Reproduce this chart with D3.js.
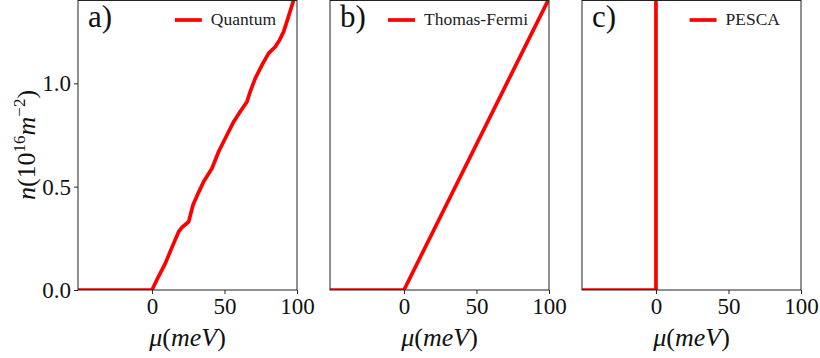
<!DOCTYPE html>
<html>
<head>
<meta charset="utf-8">
<script src="https://cdn.jsdelivr.net/npm/d3@7"></script>
<style>
  html, body { margin: 0; padding: 0; background: #fff; }
  svg { display: block; }
</style>
</head>
<body>
<svg id="chart" width="820" height="358"></svg>
<script>
// Electron density n(mu) for three models
const quantumMu = [-51, 0, 4.5, 9.2, 14, 18.4, 21, 25.3, 28.3, 32, 35.6, 41.4, 46, 51.7, 56, 60.9, 65.5, 68, 71.2, 76, 80.4, 85, 88, 90.8, 94, 97.7, 100];
const quantumN  = [0, 0, 0.065, 0.129, 0.21, 0.282, 0.305, 0.33, 0.411, 0.47, 0.524, 0.589, 0.67, 0.75, 0.81, 0.863, 0.911, 0.965, 1.024, 1.09, 1.145, 1.177, 1.21, 1.25, 1.32, 1.403, 1.46];

const thomasFermiMu = [-51, 0, 100];
const thomasFermiN  = [0, 0, 1.41];

const pescaMu = [-51, 0, 0];
const pescaN  = [0, 0, 2.0];

const xTicks = [0, 50, 100];
const yTicks = [0.0, 0.5, 1.0];
const yTickLabels = ["0.0", "0.5", "1.0"];

const panels = [
  { tag: "a)", name: "Quantum",      mu: quantumMu,     n: quantumN,     left: 78,  showY: true },
  { tag: "b)", name: "Thomas-Fermi", mu: thomasFermiMu, n: thomasFermiN, left: 330, showY: false },
  { tag: "c)", name: "PESCA",        mu: pescaMu,       n: pescaN,       left: 582, showY: false }
];

const SERIF = "'Liberation Serif', 'Times New Roman', serif";
const svg = d3.select("#chart");
const W = 219, plotTop = 0, plotBottom = 290;
const red = "#ff0000";

panels.forEach((p, i) => {
  const x = d3.scaleLinear().domain([-51, 100]).range([p.left, p.left + W]);
  const y = d3.scaleLinear().domain([0, 1.403]).range([plotBottom, plotTop]);

  const g = svg.append("g").style("font-family", SERIF);
  const clipId = "clip" + i;
  svg.append("clipPath").attr("id", clipId)
    .append("rect").attr("x", p.left).attr("y", plotTop).attr("width", W).attr("height", plotBottom - plotTop);

  // density curve
  const pts = p.mu.map((m, k) => [m, p.n[k]]);
  g.append("path")
    .datum(pts)
    .attr("clip-path", `url(#${clipId})`)
    .attr("fill", "none")
    .attr("stroke", red)
    .attr("stroke-width", 3.7)
    .attr("stroke-linejoin", "round")
    .attr("d", d3.line().x(d => x(d[0])).y(d => y(d[1])));

  // axes frame
  g.append("rect")
    .attr("x", p.left).attr("y", plotTop + 0.5)
    .attr("width", W).attr("height", plotBottom - plotTop - 0.5)
    .attr("fill", "none").attr("stroke", "#222").attr("stroke-width", 1);

  // x axis
  const xa = g.append("g").attr("transform", `translate(0,${plotBottom})`)
    .call(d3.axisBottom(x).tickValues(xTicks).tickSize(4).tickPadding(4).tickFormat(d3.format("d")));
  xa.attr("font-family", null);
  xa.select(".domain").remove();
  xa.selectAll("line").attr("stroke", "#222");
  xa.selectAll("text").style("font-family", SERIF).attr("font-size", 23).attr("fill", "#111").attr("dy", "0.7em");

  g.append("text")
    .style("font-family", SERIF)
    .attr("x", p.left + W / 2).attr("y", 346)
    .attr("text-anchor", "middle").attr("font-size", 26).attr("fill", "#111")
    .call(t => {
      t.append("tspan").attr("font-style", "italic").text("μ");
      t.append("tspan").text("(");
      t.append("tspan").attr("font-style", "italic").text("meV");
      t.append("tspan").text(")");
    });

  if (p.showY) {
    const ya = g.append("g").attr("transform", `translate(${p.left},0)`)
      .call(d3.axisLeft(y).tickValues(yTicks).tickSize(4).tickPadding(3).tickFormat((d, k) => yTickLabels[k]));
    ya.attr("font-family", null);
    ya.select(".domain").remove();
    ya.selectAll("line").attr("stroke", "#222");
    ya.selectAll("text").style("font-family", SERIF).attr("font-size", 23).attr("fill", "#111");

    g.append("text")
      .style("font-family", SERIF)
      .attr("transform", `translate(35,${(plotTop + plotBottom) / 2}) rotate(-90)`)
      .attr("text-anchor", "middle").attr("font-size", 26).attr("fill", "#111")
      .call(t => {
        t.append("tspan").attr("font-style", "italic").text("n");
        t.append("tspan").text("(10");
        t.append("tspan").attr("font-size", 17).attr("dy", -10).text("16");
        t.append("tspan").attr("font-style", "italic").attr("dy", 10).text("m");
        t.append("tspan").attr("font-size", 17).attr("dy", -10).text("−2");
        t.append("tspan").attr("dy", 10).text(")");
      });
  }

  // panel tag
  g.append("text")
    .style("font-family", SERIF)
    .attr("x", p.left + 10).attr("y", 27).attr("fill", "#111")
    .attr("font-size", 31).text(p.tag);

  // legend
  const textRight = p.left + W - 21;
  const lt = g.append("text")
    .style("font-family", SERIF)
    .attr("x", textRight).attr("y", 25)
    .attr("text-anchor", "end").attr("font-size", 17.5).attr("fill", "#222")
    .text(p.name);
  const bb = lt.node().getBBox();
  g.append("line")
    .attr("x1", bb.x - 36).attr("x2", bb.x - 9)
    .attr("y1", 20).attr("y2", 20)
    .attr("stroke", red).attr("stroke-width", 3.7);
});
</script>
</body>
</html>
